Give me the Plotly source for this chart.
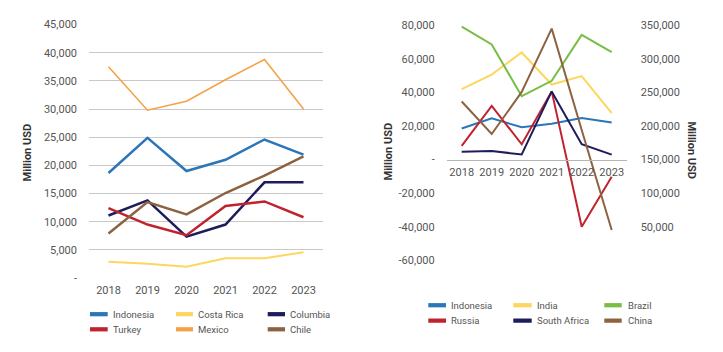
import plotly.graph_objects as go

years = ["2018", "2019", "2020", "2021", "2022", "2023"]

# Left chart (Million USD)
left_names = ["Indonesia", "Costa Rica", "Columbia", "Turkey", "Mexico", "Chile"]
indonesia = [18650, 24900, 19000, 21000, 24600, 21900]
costa_rica = [2900, 2550, 2000, 3500, 3500, 4600]
columbia = [11100, 13800, 7350, 9500, 17000, 17000]
turkey = [12400, 9500, 7600, 12800, 13600, 10800]
mexico = [37500, 29800, 31400, 35200, 38800, 30000]
chile = [7900, 13500, 11300, 15100, 18200, 21600]

# Right chart (Million USD); China on the secondary axis
right_names = ["Indonesia", "India", "Brazil", "Russia", "South Africa", "China"]
indonesia_r = [18500, 24600, 19200, 21300, 24700, 22000]
india = [41900, 50600, 63800, 44700, 49700, 27600]
brazil = [79200, 68600, 37700, 46900, 74300, 64000]
russia = [8200, 32000, 9100, 40600, -40000, -10300]
south_africa = [4700, 5100, 3000, 40600, 9100, 2900]
china = [236500, 188000, 250700, 345000, 194000, 45000]

left_ticks = [0, 5000, 10000, 15000, 20000, 25000, 30000, 35000, 40000, 45000]
right_left_ticks = [-60000, -40000, -20000, 0, 20000, 40000, 60000, 80000]
right_right_ticks = [50000, 100000, 150000, 200000, 250000, 300000, 350000]


def fmt(v):
    return "-" if v == 0 else f"{v:,}"


BLUE = "#2a76b8"
YELLOW = "#fdd660"
NAVY = "#1f1c5c"
RED = "#c0232e"
ORANGE = "#f5a247"
BROWN = "#8c6240"
GREEN = "#78bd45"
TXT = "#555555"
GRID = "#c9c9c9"

W, H = 723, 352


def px(x):
    return x / W


def py(y):
    return 1 - y / H


fig = go.Figure()

left_series = [indonesia, costa_rica, columbia, turkey, mexico, chile]
left_colors = [BLUE, YELLOW, NAVY, RED, ORANGE, BROWN]
left_widths = [2.5, 2, 2.5, 2.5, 1.6, 2.5]
for name, vals, col, w in zip(left_names, left_series, left_colors, left_widths):
    fig.add_trace(go.Scatter(x=years, y=vals, name=name, mode="lines",
                             line=dict(color=col, width=w), showlegend=False,
                             xaxis="x", yaxis="y"))

right_series = [indonesia_r, india, brazil, russia, south_africa]
right_colors = [BLUE, YELLOW, GREEN, RED, NAVY]
for name, vals, col in zip(right_names[:5], right_series, right_colors):
    fig.add_trace(go.Scatter(x=years, y=vals, name=name, mode="lines",
                             line=dict(color=col, width=2), showlegend=False,
                             xaxis="x2", yaxis="y2"))
fig.add_trace(go.Scatter(x=years, y=china, name=right_names[5], mode="lines",
                         line=dict(color=BROWN, width=2), showlegend=False,
                         xaxis="x2", yaxis="y3"))

tickfont = dict(family="Roboto", size=11, color=TXT)

r_top, r_bot = 20, 264
zero_y = r_top + (80000 / 140000) * (r_bot - r_top)

fig.update_layout(
    width=W, height=H,
    margin=dict(l=0, r=0, t=0, b=0),
    paper_bgcolor="white", plot_bgcolor="white",
    font=dict(family="Roboto", color=TXT),
    showlegend=False,
    xaxis=dict(domain=[px(89), px(323)], anchor="y", type="category",
               range=[-0.5, 5.5], showgrid=False, showline=False, zeroline=False,
               ticks="", tickfont=tickfont, ticklabelstandoff=4),
    yaxis=dict(domain=[py(282.5), py(19.3)], anchor="x", range=[0, 45000],
               tickvals=left_ticks, ticktext=[fmt(v) for v in left_ticks],
               showgrid=True, gridcolor=GRID, gridwidth=1, zeroline=False,
               showline=False, ticks="", tickfont=tickfont, ticklabelstandoff=11),
    xaxis2=dict(domain=[px(446.7), px(626.7)], anchor="free", position=py(zero_y),
                type="category", range=[-0.5, 5.5], showgrid=False,
                showline=True, linecolor="#b5b5b5", linewidth=1, zeroline=False,
                ticks="", tickfont=tickfont, ticklabelstandoff=2),
    yaxis2=dict(domain=[py(r_bot), py(r_top)], anchor="x2", range=[-60000, 80000],
                tickvals=right_left_ticks, ticktext=[fmt(v) for v in right_left_ticks],
                showgrid=False, zeroline=False, showline=False, ticks="",
                tickfont=tickfont, ticklabelstandoff=11),
    yaxis3=dict(domain=[py(r_bot), py(r_top)], anchor="x2", overlaying="y2",
                side="right", range=[0, 350000],
                tickvals=right_right_ticks, ticktext=[fmt(v) for v in right_right_ticks],
                showgrid=False, zeroline=False, showline=False, ticks="",
                tickfont=tickfont, ticklabelstandoff=13),
)

annotations = []
title_font = dict(family="Roboto", size=11, color="#333333")
annotations.append(dict(text="<b>Million USD</b>", x=px(27), y=py(152), xref="paper", yref="paper",
                        textangle=-90, showarrow=False, font=title_font,
                        xanchor="center", yanchor="middle"))
annotations.append(dict(text="<b>Million USD</b>", x=px(388), y=py(151), xref="paper", yref="paper",
                        textangle=-90, showarrow=False, font=title_font,
                        xanchor="center", yanchor="middle"))
annotations.append(dict(text="<b>Million USD</b>", x=px(692), y=py(150), xref="paper", yref="paper",
                        textangle=90, showarrow=False, font=title_font,
                        xanchor="center", yanchor="middle"))

shapes = []
legend_font = dict(family="Roboto", size=9.5, color=TXT)


def add_legend(names, colors, cols_sw, cols_txt, rows):
    for i, (n, c) in enumerate(zip(names, colors)):
        r, k = divmod(i, 3)
        yy = rows[r]
        x0, x1 = cols_sw[k]
        shapes.append(dict(type="rect", xref="paper", yref="paper",
                           x0=px(x0), x1=px(x1), y0=py(yy + 2.2), y1=py(yy - 2.2),
                           fillcolor=c, line=dict(width=0)))
        annotations.append(dict(text=n, x=px(cols_txt[k]), y=py(yy), xref="paper", yref="paper",
                                showarrow=False, xanchor="left", yanchor="middle",
                                font=legend_font))


add_legend(left_names, left_colors,
           [(90, 107.7), (176, 193), (267.7, 285)], [111, 196.5, 288], [320, 335.7])
add_legend(right_names, [BLUE, YELLOW, GREEN, RED, NAVY, BROWN],
           [(428.3, 446), (513.3, 531.7), (604.3, 621.7)], [449, 534.5, 625.5], [310.7, 326.7])

fig.update_layout(annotations=annotations, shapes=shapes)

fig.write_html("out.html")
